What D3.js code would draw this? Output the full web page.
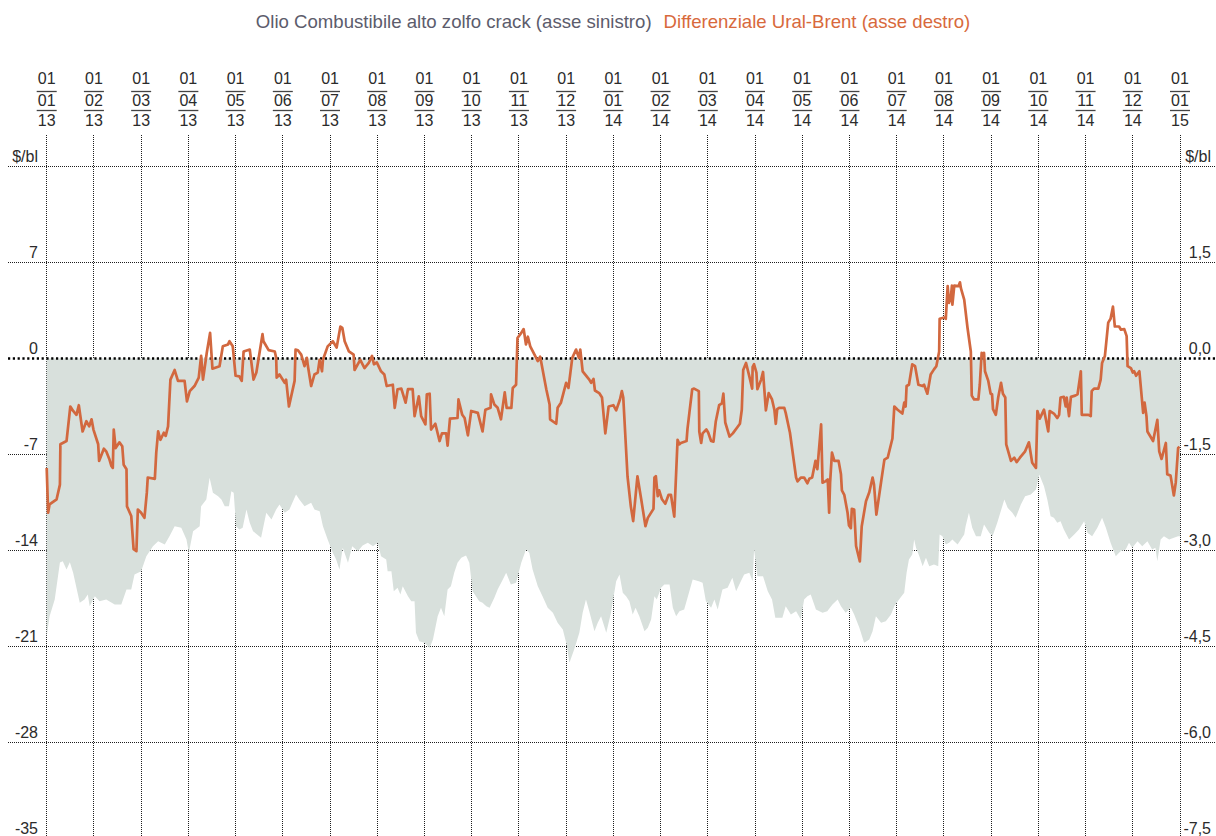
<!DOCTYPE html>
<html>
<head>
<meta charset="utf-8">
<script src="https://cdnjs.cloudflare.com/ajax/libs/d3/7.8.5/d3.min.js"></script>
<style>
  body { margin: 0; background: #fff; }
  svg { display: block; font-family: "Liberation Sans", Arial, Helvetica, sans-serif; }
</style>
</head>
<body>
<svg id="chart" width="1216" height="836"></svg>
<script>

// month ticks: day / month / year, one per month start (01/01/13 .. 01/01/15)
const tickDays = d3.range(25).map(() => '01');
const tickMonths = ['01','02','03','04','05','06','07','08','09','10','11','12',
                    '01','02','03','04','05','06','07','08','09','10','11','12','01'];
const tickYears = ['13','13','13','13','13','13','13','13','13','13','13','13',
                   '14','14','14','14','14','14','14','14','14','14','14','14','15'];

const leftTicks = [14, 7, 0, -7, -14, -21, -28, -35];
const rightTicks = [3, 1.5, 0, -1.5, -3, -4.5, -6, -7.5];

// Olio Combustibile alto zolfo crack, $/bl (left axis) -- [month index, value]
const crackSeries = [
  [0.00,-20.27],[0.06,-18.81],[0.17,-17.57],[0.28,-14.88],[0.34,-14.78],[0.42,-15.39],[0.49,-14.85],
  [0.56,-15.63],[0.70,-17.81],[0.80,-17.57],[0.87,-17.21],[0.91,-18.06],[1.02,-17.33],[1.12,-17.70],
  [1.26,-17.57],[1.44,-17.94],[1.58,-17.94],[1.69,-16.84],[1.79,-16.84],[1.86,-15.75],[2.00,-15.51],
  [2.11,-14.42],[2.25,-13.69],[2.36,-13.32],[2.50,-13.56],[2.60,-12.96],[2.71,-12.23],[2.85,-12.35],
  [2.96,-13.20],[3.01,-14.17],[3.10,-12.59],[3.24,-12.23],[3.27,-10.77],[3.38,-10.28],[3.45,-8.70],
  [3.52,-9.79],[3.63,-10.04],[3.70,-10.28],[3.77,-10.77],[3.86,-10.77],[3.91,-9.68],[3.96,-9.79],
  [4.01,-12.23],[4.08,-12.47],[4.15,-12.35],[4.23,-11.01],[4.30,-11.98],[4.37,-12.59],[4.54,-13.07],
  [4.65,-11.25],[4.76,-11.74],[4.86,-11.01],[4.93,-10.65],[5.04,-11.25],[5.14,-11.01],[5.28,-9.92],
  [5.35,-10.28],[5.46,-10.77],[5.60,-10.52],[5.67,-11.01],[5.78,-11.13],[5.85,-12.23],[5.95,-13.20],
  [6.06,-14.17],[6.13,-14.66],[6.20,-15.39],[6.27,-13.80],[6.38,-14.90],[6.47,-13.69],[6.59,-14.05],
  [6.69,-13.64],[6.80,-13.44],[6.91,-13.69],[7.01,-13.44],[7.08,-14.42],[7.19,-14.66],[7.22,-15.51],
  [7.30,-15.51],[7.35,-16.97],[7.43,-16.72],[7.49,-17.21],[7.54,-16.60],[7.65,-17.33],[7.72,-17.70],
  [7.79,-17.70],[7.82,-20.00],[7.89,-20.61],[8.00,-20.73],[8.11,-21.10],[8.18,-20.49],[8.28,-18.79],
  [8.35,-18.18],[8.42,-18.79],[8.49,-16.84],[8.56,-16.60],[8.63,-15.63],[8.70,-14.90],[8.78,-14.53],
  [8.88,-14.37],[8.95,-14.90],[9.02,-16.97],[9.09,-17.33],[9.16,-17.70],[9.23,-17.81],[9.31,-18.06],
  [9.38,-18.18],[9.48,-17.45],[9.55,-16.84],[9.66,-16.12],[9.73,-15.63],[9.83,-16.48],[9.94,-16.36],
  [10.05,-14.90],[10.15,-13.93],[10.22,-14.17],[10.29,-15.39],[10.40,-16.60],[10.50,-17.33],[10.61,-18.18],
  [10.72,-18.54],[10.82,-19.27],[10.93,-19.76],[11.01,-20.86],[11.07,-22.19],[11.17,-21.22],[11.28,-20.00],
  [11.35,-18.54],[11.42,-17.57],[11.49,-18.43],[11.60,-19.89],[11.67,-19.27],[11.74,-18.79],[11.85,-20.00],
  [11.95,-18.54],[12.06,-16.24],[12.13,-15.75],[12.20,-17.08],[12.27,-17.33],[12.34,-17.70],[12.41,-18.67],
  [12.47,-18.18],[12.55,-18.79],[12.66,-19.89],[12.73,-19.64],[12.80,-19.03],[12.87,-17.33],[12.92,-17.57],
  [13.01,-16.72],[13.08,-16.48],[13.19,-16.48],[13.26,-18.18],[13.33,-18.79],[13.40,-18.43],[13.50,-18.30],
  [13.61,-16.97],[13.68,-16.12],[13.81,-16.24],[13.89,-16.36],[13.96,-17.70],[14.07,-18.18],[14.14,-17.57],
  [14.21,-18.30],[14.31,-16.84],[14.42,-16.72],[14.52,-15.99],[14.60,-16.97],[14.70,-16.24],[14.77,-15.75],
  [14.88,-15.63],[14.95,-16.24],[14.98,-13.93],[15.05,-15.87],[15.17,-15.87],[15.27,-16.97],[15.36,-17.57],
  [15.43,-18.91],[15.58,-18.91],[15.65,-18.06],[15.76,-18.67],[15.87,-18.43],[15.97,-19.03],[16.04,-17.57],
  [16.11,-17.33],[16.18,-17.21],[16.29,-18.30],[16.43,-18.54],[16.53,-18.43],[16.64,-17.94],[16.75,-17.57],
  [16.82,-18.06],[16.92,-18.54],[17.03,-18.18],[17.10,-18.67],[17.21,-19.64],[17.31,-20.73],[17.42,-20.49],
  [17.49,-19.89],[17.56,-18.79],[17.67,-19.27],[17.77,-19.16],[17.88,-18.67],[17.95,-18.06],[18.05,-17.57],
  [18.16,-17.08],[18.21,-15.63],[18.26,-14.66],[18.33,-14.29],[18.37,-13.20],[18.41,-13.80],[18.48,-14.42],
  [18.55,-15.15],[18.62,-14.53],[18.69,-15.15],[18.79,-15.02],[18.88,-15.15],[18.91,-12.83],[18.97,-12.96],
  [19.04,-13.56],[19.11,-13.44],[19.18,-13.20],[19.29,-13.56],[19.36,-13.20],[19.43,-12.83],[19.46,-12.23],
  [19.53,-11.25],[19.60,-12.35],[19.68,-12.96],[19.78,-12.96],[19.85,-12.10],[19.96,-12.71],[20.03,-12.96],
  [20.13,-11.98],[20.28,-10.28],[20.35,-10.89],[20.45,-11.25],[20.52,-11.62],[20.63,-10.65],[20.72,-10.04],
  [20.84,-9.92],[20.95,-9.55],[21.02,-8.46],[21.12,-9.31],[21.19,-10.28],[21.26,-11.50],[21.33,-11.62],
  [21.40,-11.98],[21.47,-11.86],[21.54,-12.47],[21.65,-13.20],[21.76,-12.83],[21.86,-12.47],[21.97,-11.86],
  [22.04,-12.71],[22.14,-12.96],[22.25,-12.35],[22.35,-11.62],[22.43,-12.35],[22.53,-13.44],[22.64,-14.42],
  [22.74,-14.05],[22.85,-13.93],[22.92,-13.44],[22.99,-13.80],[23.10,-13.32],[23.20,-13.69],[23.31,-13.32],
  [23.41,-13.93],[23.48,-13.80],[23.52,-14.78],[23.59,-13.20],[23.66,-12.96],[23.77,-13.20],[23.87,-13.07],
  [23.96,-12.96],[24.00,-12.96]
];

// Differenziale Ural-Brent, $/bl (right axis) -- [month index, value]
const uralBrentSeries = [
  [0.00,-1.71],[0.03,-2.41],[0.06,-2.28],[0.21,-2.20],[0.28,-1.97],[0.29,-1.34],[0.42,-1.29],[0.50,-0.75],
  [0.56,-0.82],[0.63,-0.88],[0.68,-0.73],[0.76,-1.14],[0.84,-0.98],[0.90,-1.06],[0.95,-0.95],[0.99,-1.11],
  [1.09,-1.34],[1.11,-1.60],[1.21,-1.41],[1.26,-1.45],[1.33,-1.58],[1.37,-1.68],[1.40,-1.71],[1.42,-1.11],
  [1.46,-1.40],[1.54,-1.31],[1.60,-1.37],[1.63,-1.66],[1.69,-1.73],[1.70,-2.31],[1.79,-2.46],[1.84,-2.98],
  [1.90,-3.01],[1.93,-2.36],[2.00,-2.41],[2.07,-2.49],[2.12,-2.10],[2.14,-1.86],[2.29,-1.88],[2.32,-1.47],
  [2.36,-1.14],[2.41,-1.27],[2.48,-1.16],[2.52,-1.21],[2.57,-1.06],[2.62,-0.33],[2.71,-0.18],[2.78,-0.35],
  [2.92,-0.35],[2.97,-0.67],[3.03,-0.51],[3.13,-0.43],[3.22,-0.30],[3.27,0.04],[3.31,-0.33],[3.39,0.09],
  [3.46,0.40],[3.51,-0.16],[3.66,-0.12],[3.73,0.19],[3.84,0.22],[3.87,0.27],[3.94,0.19],[4.00,-0.27],
  [4.08,-0.28],[4.13,-0.35],[4.17,0.11],[4.30,0.14],[4.38,-0.33],[4.44,-0.22],[4.57,0.38],[4.59,0.27],
  [4.70,0.13],[4.83,0.11],[4.86,0.01],[4.87,-0.30],[4.93,-0.25],[5.04,-0.38],[5.07,-0.33],[5.13,-0.75],
  [5.25,-0.35],[5.27,0.14],[5.32,0.13],[5.39,0.06],[5.46,-0.12],[5.51,0.01],[5.53,-0.11],[5.60,-0.43],
  [5.67,-0.25],[5.74,-0.22],[5.78,-0.02],[5.83,-0.20],[5.85,-0.02],[5.95,0.19],[6.06,0.27],[6.14,0.17],
  [6.22,0.50],[6.26,0.48],[6.31,0.27],[6.40,0.11],[6.50,0.06],[6.52,-0.18],[6.64,-0.02],[6.73,-0.15],
  [6.82,-0.07],[6.89,0.04],[6.93,-0.09],[6.99,-0.06],[7.08,-0.20],[7.15,-0.25],[7.20,-0.43],[7.33,-0.41],
  [7.37,-0.77],[7.43,-0.48],[7.51,-0.47],[7.60,-0.69],[7.65,-0.48],[7.75,-0.48],[7.79,-0.90],[7.88,-0.59],
  [7.93,-0.90],[8.02,-1.03],[8.05,-0.56],[8.11,-0.55],[8.14,-1.11],[8.23,-1.02],[8.32,-1.29],[8.37,-1.17],
  [8.46,-1.17],[8.49,-1.36],[8.54,-0.94],[8.70,-0.93],[8.72,-0.64],[8.80,-0.88],[8.85,-0.93],[8.92,-1.20],
  [8.99,-0.82],[9.13,-0.85],[9.23,-1.14],[9.29,-0.80],[9.40,-0.77],[9.41,-0.56],[9.48,-0.72],[9.55,-0.77],
  [9.62,-0.95],[9.70,-0.53],[9.74,-0.77],[9.84,-0.77],[9.87,-0.46],[9.94,-0.41],[9.97,0.32],[10.05,0.40],
  [10.10,0.46],[10.15,0.22],[10.19,0.34],[10.24,0.19],[10.33,0.06],[10.40,-0.04],[10.45,0.03],[10.58,-0.48],
  [10.65,-0.72],[10.66,-0.95],[10.79,-1.02],[10.82,-0.77],[10.89,-0.69],[11.00,-0.38],[11.05,-0.46],[11.13,0.01],
  [11.21,0.14],[11.27,0.01],[11.30,0.14],[11.35,-0.20],[11.49,-0.33],[11.53,-0.38],[11.58,-0.32],[11.61,-0.50],
  [11.70,-0.54],[11.76,-0.61],[11.83,-1.17],[11.90,-0.75],[12.00,-0.73],[12.06,-0.81],[12.14,-0.64],[12.18,-0.51],
  [12.21,-0.61],[12.30,-1.84],[12.37,-2.31],[12.42,-2.54],[12.51,-1.84],[12.59,-2.20],[12.68,-2.62],[12.73,-2.49],
  [12.85,-2.35],[12.87,-1.86],[12.90,-1.84],[12.94,-2.15],[12.97,-2.06],[13.03,-2.20],[13.10,-2.27],[13.17,-2.13],
  [13.22,-2.13],[13.29,-2.47],[13.36,-1.27],[13.40,-1.34],[13.43,-1.32],[13.55,-1.29],[13.57,-1.10],[13.61,-0.85],
  [13.67,-0.48],[13.71,-0.47],[13.81,-0.51],[13.82,-1.14],[13.86,-1.32],[13.89,-1.17],[13.97,-1.11],[14.01,-1.16],
  [14.07,-1.29],[14.12,-1.30],[14.17,-0.98],[14.24,-0.73],[14.30,-0.70],[14.33,-0.55],[14.37,-1.00],[14.46,-1.22],
  [14.53,-1.17],[14.63,-1.07],[14.68,-1.02],[14.72,-0.80],[14.75,-0.18],[14.81,-0.07],[14.88,-0.28],[14.94,-0.47],
  [14.95,-0.13],[14.98,-0.09],[15.03,-0.22],[15.05,-0.48],[15.13,-0.33],[15.17,-0.21],[15.23,-0.81],[15.29,-0.54],
  [15.36,-0.64],[15.41,-0.80],[15.44,-1.02],[15.47,-0.79],[15.51,-0.77],[15.62,-0.77],[15.65,-0.85],[15.74,-1.16],
  [15.87,-1.86],[15.90,-1.92],[15.97,-1.86],[16.04,-1.86],[16.11,-1.95],[16.15,-1.88],[16.21,-1.86],[16.28,-1.60],
  [16.32,-1.73],[16.40,-1.03],[16.43,-1.94],[16.49,-1.92],[16.54,-1.89],[16.57,-2.41],[16.59,-1.94],[16.63,-1.47],
  [16.68,-1.60],[16.77,-1.60],[16.82,-1.81],[16.84,-2.06],[16.89,-2.13],[16.96,-2.41],[16.99,-2.61],[17.03,-2.65],
  [17.05,-2.35],[17.10,-2.36],[17.14,-2.93],[17.22,-3.17],[17.26,-2.62],[17.35,-2.23],[17.42,-2.09],[17.49,-1.86],
  [17.52,-1.97],[17.57,-2.44],[17.67,-1.93],[17.74,-1.58],[17.81,-1.55],[17.91,-1.25],[17.95,-0.75],[18.02,-0.80],
  [18.12,-0.86],[18.16,-0.69],[18.19,-0.75],[18.21,-0.43],[18.26,-0.41],[18.33,-0.09],[18.39,-0.12],[18.46,-0.41],
  [18.55,-0.43],[18.58,-0.41],[18.65,-0.55],[18.72,-0.25],[18.79,-0.17],[18.84,-0.12],[18.90,0.11],[18.91,0.62],
  [19.01,0.64],[19.04,0.62],[19.08,1.13],[19.11,0.87],[19.15,0.97],[19.17,1.14],[19.18,0.84],[19.22,1.14],
  [19.31,1.13],[19.34,1.19],[19.36,1.10],[19.43,0.92],[19.50,0.48],[19.57,0.11],[19.59,-0.58],[19.64,-0.64],
  [19.73,-0.64],[19.76,-0.41],[19.80,0.09],[19.84,0.03],[19.85,0.09],[19.87,-0.20],[19.94,-0.35],[19.99,-0.55],
  [20.02,-0.56],[20.04,-0.79],[20.10,-0.88],[20.15,-0.61],[20.21,-0.38],[20.25,-0.55],[20.30,-0.61],[20.32,-1.34],
  [20.42,-1.60],[20.49,-1.55],[20.54,-1.62],[20.61,-1.55],[20.72,-1.45],[20.80,-1.31],[20.87,-1.63],[20.95,-1.71],
  [20.98,-0.82],[21.03,-0.94],[21.12,-0.80],[21.21,-1.14],[21.24,-0.82],[21.33,-0.86],[21.40,-0.93],[21.44,-0.88],
  [21.47,-0.61],[21.54,-0.60],[21.58,-0.75],[21.60,-0.61],[21.65,-0.90],[21.69,-0.60],[21.78,-0.58],[21.83,-0.56],
  [21.90,-0.20],[21.92,-0.88],[22.06,-0.88],[22.11,-0.90],[22.13,-0.51],[22.18,-0.47],[22.27,-0.47],[22.32,-0.33],
  [22.35,-0.07],[22.41,0.04],[22.48,0.56],[22.53,0.62],[22.58,0.81],[22.62,0.50],[22.71,0.50],[22.75,0.45],
  [22.82,0.46],[22.87,0.35],[22.89,-0.12],[22.96,-0.15],[23.00,-0.22],[23.03,-0.20],[23.07,-0.27],[23.14,-0.20],
  [23.22,-0.85],[23.25,-0.69],[23.29,-0.90],[23.31,-1.14],[23.43,-1.29],[23.52,-0.96],[23.56,-1.45],[23.61,-1.57],
  [23.70,-1.32],[23.73,-1.81],[23.80,-1.83],[23.87,-2.14],[23.91,-1.94],[23.96,-1.40],[23.99,-1.38]
];

const svg = d3.select('#chart');

const x = d3.scaleLinear().domain([0, 24]).range([46.7, 1180]);
const yLeft = d3.scaleLinear().domain([-35, 14]).range([838.5, 166.5]);
const yRight = d3.scaleLinear().domain([-7.5, 3]).range([838.5, 166.5]);

const gridColor = '#1e1e1e';
// snap grid lines to the pixel so the dots stay sharp
const snap = v => Math.round(v - 0.5) + 0.5;

// title
const title = svg.append('text')
  .attr('x', 613).attr('y', 28)
  .attr('text-anchor', 'middle')
  .style('font-size', '18.6px');
title.append('tspan').attr('fill', '#5c5c6c').text('Olio Combustibile alto zolfo crack (asse sinistro)');
title.append('tspan').attr('fill', '#d8693c').attr('dx', 12).text('Differenziale Ural-Brent (asse destro)');

// vertical grid
svg.append('g').selectAll('line').data(d3.range(25)).enter().append('line')
  .attr('x1', d => snap(x(d))).attr('x2', d => snap(x(d)))
  .attr('y1', 135).attr('y2', 836)
  .attr('stroke', gridColor).attr('stroke-width', 1).attr('stroke-dasharray', '1,1')
  .attr('shape-rendering', 'crispEdges');

// horizontal grid (zero line drawn later, on top of the area)
svg.append('g').selectAll('line').data(leftTicks.filter(d => d !== 0)).enter().append('line')
  .attr('x1', 8).attr('x2', 1216)
  .attr('y1', d => snap(yLeft(d))).attr('y2', d => snap(yLeft(d)))
  .attr('stroke', gridColor).attr('stroke-width', 1).attr('stroke-dasharray', '1,1')
  .attr('shape-rendering', 'crispEdges');

// crack area, from zero down
const area = d3.area()
  .x(d => x(d[0]))
  .y0(yLeft(0))
  .y1(d => yLeft(d[1]));

svg.append('path')
  .datum(crackSeries)
  .attr('d', area)
  .attr('fill', '#d8e0dc');

// zero line
svg.append('line')
  .attr('x1', 8).attr('x2', 1216)
  .attr('y1', yLeft(0)).attr('y2', yLeft(0))
  .attr('stroke', '#000').attr('stroke-width', 2.4)
  .attr('stroke-dasharray', '2.2,2.6');

// Ural-Brent line
const line = d3.line()
  .x(d => x(d[0]))
  .y(d => yRight(d[1]));

svg.append('path')
  .datum(uralBrentSeries)
  .attr('d', line)
  .attr('fill', 'none')
  .attr('stroke', '#d2683f')
  .attr('stroke-width', 2.7)
  .attr('stroke-linejoin', 'round');

// left axis labels
const leftAxis = d3.axisLeft(yLeft)
  .tickValues(leftTicks)
  .tickSize(0)
  .tickFormat(d => d === 14 ? '$/bl' : String(d));

svg.append('g')
  .attr('transform', 'translate(38,0)')
  .call(leftAxis)
  .call(g => g.select('.domain').remove())
  .call(g => g.selectAll('text')
    .attr('x', 0).attr('dy', -5)
    .attr('fill', '#2b2b2b')
    .style('font-size', '16px')
    .style('font-family', '"Liberation Sans", Arial, sans-serif'));

// right axis labels
const fmtComma = d => d3.format('.1f')(d).replace('.', ',').replace('−', '-');
const rightAxis = d3.axisLeft(yRight)
  .tickValues(rightTicks)
  .tickSize(0)
  .tickFormat(d => d === 3 ? '$/bl' : fmtComma(d));

svg.append('g')
  .attr('transform', 'translate(1211,0)')
  .call(rightAxis)
  .call(g => g.select('.domain').remove())
  .call(g => g.selectAll('text')
    .attr('x', 0).attr('dy', -5)
    .attr('fill', '#2b2b2b')
    .style('font-size', '16px')
    .style('font-family', '"Liberation Sans", Arial, sans-serif'));

// top date ticks, stacked as dd / mm / yy
const dateTicks = svg.append('g').selectAll('g').data(d3.range(25)).enter().append('g')
  .attr('transform', d => 'translate(' + x(d) + ',0)');

const tickText = (sel, y, arr) => sel.append('text')
  .attr('y', y)
  .attr('text-anchor', 'middle')
  .attr('fill', '#2b2b2b')
  .style('font-size', '16px')
  .text(d => arr[d]);

tickText(dateTicks, 84, tickDays);
tickText(dateTicks, 106, tickMonths);
tickText(dateTicks, 126, tickYears);

[91.5, 110.5].forEach(yy => {
  dateTicks.append('line')
    .attr('x1', -10).attr('x2', 10)
    .attr('y1', yy).attr('y2', yy)
    .attr('stroke', '#444').attr('stroke-width', 1.3);
});

</script>
</body>
</html>
